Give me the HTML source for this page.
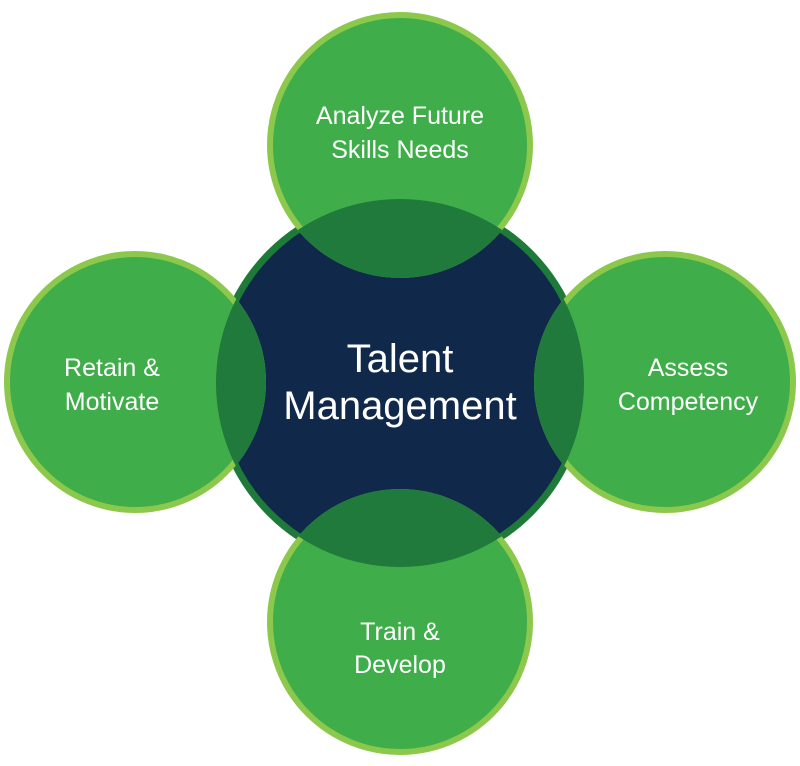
<!DOCTYPE html>
<html><head><style>
html,body{margin:0;padding:0;background:#fff;}
svg{display:block;}
text{font-family:"Liberation Sans",sans-serif;fill:#fff;text-anchor:middle;}
</style></head><body>
<svg width="800" height="766" viewBox="0 0 800 766">
<defs>
<clipPath id="c"><circle cx="400" cy="383" r="184"/></clipPath>
</defs>
<circle cx="400" cy="383" r="184" fill="#10284a" stroke="#1e7a38" stroke-width="7"/>
<g fill="#3fad49" stroke="#8cc84b" stroke-width="6">
<circle cx="400" cy="145" r="130"/>
<circle cx="135" cy="382" r="128"/>
<circle cx="665" cy="382" r="128"/>
<circle cx="400" cy="622" r="130"/>
</g>
<g fill="#1f7a3b" clip-path="url(#c)">
<circle cx="400" cy="145" r="133"/>
<circle cx="135" cy="382" r="131"/>
<circle cx="665" cy="382" r="131"/>
<circle cx="400" cy="622" r="133"/>
</g>
<g font-size="25">
<text x="400" y="124">Analyze Future</text>
<text x="400" y="158">Skills Needs</text>
<text x="112" y="376">Retain &amp;</text>
<text x="112" y="410">Motivate</text>
<text x="688" y="376">Assess</text>
<text x="688" y="410">Competency</text>
<text x="400" y="640">Train &amp;</text>
<text x="400" y="673">Develop</text>
</g>
<g font-size="40">
<text x="400" y="372">Talent</text>
<text x="400" y="419">Management</text>
</g>
</svg>
</body></html>
